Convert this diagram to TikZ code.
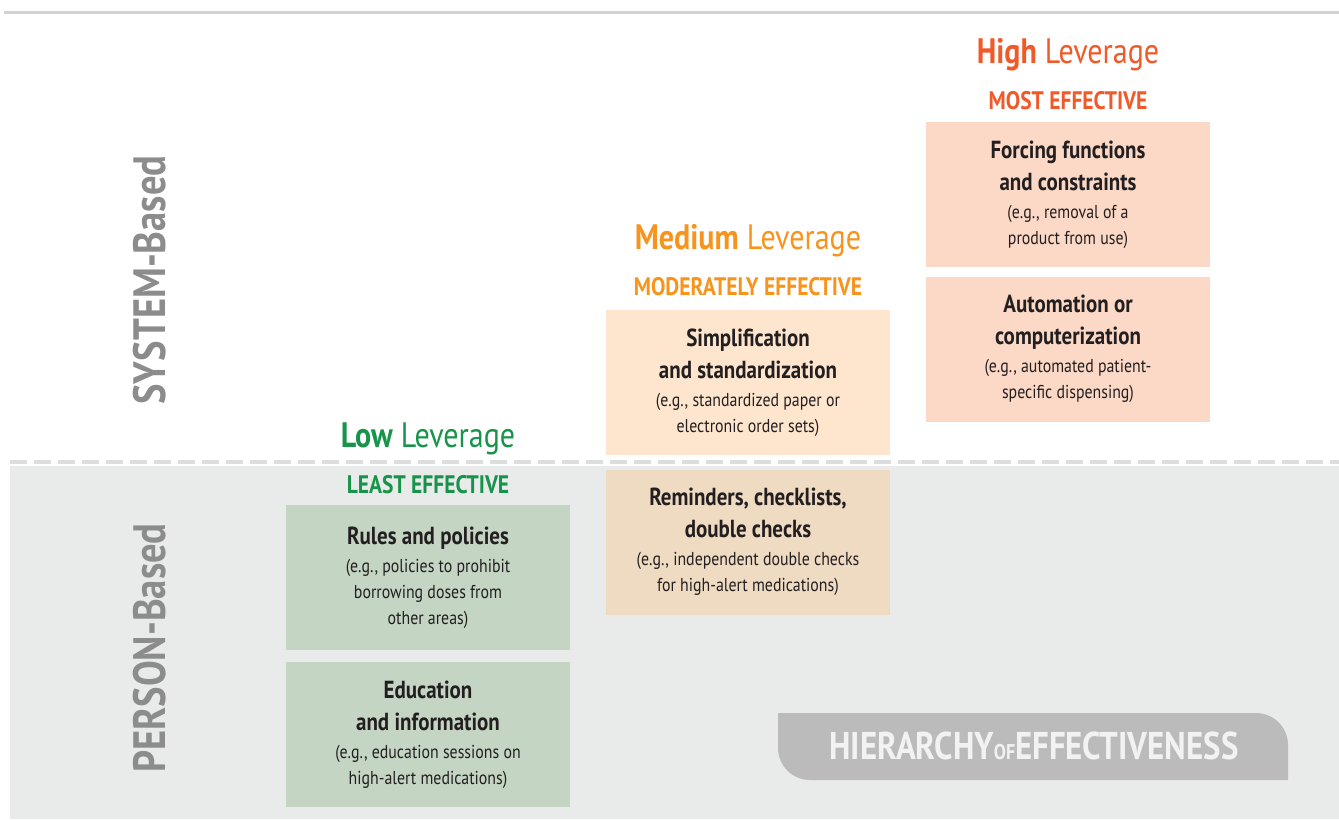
\documentclass[tikz,border=0pt]{standalone}
\usepackage{fontspec}
\setmainfont{PT Sans}[FakeStretch=0.85]
\usepackage{xcolor}
\usepackage{tikz}
\usetikzlibrary{positioning}

\definecolor{highc}{HTML}{F05A28}
\definecolor{medc}{HTML}{F7941D}
\definecolor{lowc}{HTML}{17944A}
\definecolor{highbox}{HTML}{FBD9C6}
\definecolor{medboxa}{HTML}{FEE6CE}
\definecolor{medboxb}{HTML}{EFDAC2}
\definecolor{lowbox}{HTML}{C4D5C3}
\definecolor{bggray}{HTML}{E9EBEA}
\definecolor{dashgray}{HTML}{DCDEDD}
\definecolor{topgray}{HTML}{D2D2D2}
\definecolor{sidegray}{HTML}{8C8C8C}
\definecolor{bannergray}{HTML}{BBBBBB}
\definecolor{inkdark}{HTML}{231F20}

% titre en gras / note entre parentheses
\newcommand{\bt}[1]{{\fontsize{18.5}{19.5}\selectfont\bfseries #1}}
\newcommand{\nt}[1]{{\fontsize{14}{19.5}\selectfont #1}}

\begin{document}
\begin{tikzpicture}[
		x=0.75pt, y=-0.75pt,
		measure/.style={
			minimum width=213pt, minimum height=108.75pt,
			inner sep=0pt, align=center, text=inkdark,
			font=\fontsize{14}{19.5}\selectfont
		},
		lever/.style={
			font=\fontsize{26.5}{30}\selectfont,
			anchor=center
		},
		effect/.style={
			font=\fontsize{19}{22}\selectfont\bfseries,
			anchor=center
		},
		side_label/.style={
			font=\fontsize{34}{36}\selectfont\bfseries,
			text=sidegray, rotate=90
		}
	]
	\useasboundingbox (0,0) rectangle (1339,819);
	
	% === FOND ===
	\fill[bggray] (10,466) rectangle (1339,819);
	\draw[dashgray, line width=3pt, dash pattern=on 12.75pt off 5.25pt] (10,462) -- (1339,462);
	\draw[topgray, line width=2.25pt] (4,12) -- (1339,12);
	
	% === TITRES (High, Medium, Low) ===
	\foreach \key/\cx/\ty/\col/\lev/\eff in {
		high/1068/55/highc/High/MOST EFFECTIVE,
		med/748/241/medc/Medium/MODERATELY EFFECTIVE,
		low/428/439/lowc/Low/LEAST EFFECTIVE} {
		\node[lever, text=\col] (\key title) at (\cx,\ty) {\textbf{\lev} Leverage};
		\node[effect, text=\col] (\key eff) at (\cx,\ty+46) {\eff};
	}
	
	% === HIGH ===
	\node[measure, fill=highbox] (forcing) at (1068,194.5)
		{\bt{Forcing functions}\\[4.5pt]\bt{and constraints}\\[1.5pt]\nt{(e.g., removal of a}\\\nt{product from use)}};
	\node[measure, fill=highbox] (automation) at (1068,349)
		{\bt{Automation or}\\[4.5pt]\bt{computerization}\\[1.5pt]\nt{(e.g., automated patient-}\\\nt{specific dispensing)}};
	
	% === MEDIUM ===
	\node[measure, fill=medboxa] (simplify) at (748,382.5)
		{\bt{Simplification}\\[4.5pt]\bt{and standardization}\\[1.5pt]\nt{(e.g., standardized paper or}\\\nt{electronic order sets)}};
	\node[measure, fill=medboxb] (reminders) at (748,542)
		{\bt{Reminders, checklists,}\\[4.5pt]\bt{double checks}\\[1.5pt]\nt{(e.g., independent double checks}\\\nt{for high-alert medications)}};
	
	% === LOW ===
	\node[measure, fill=lowbox] (rules) at (428,577.5)
		{\bt{Rules and policies}\\[1.5pt]\nt{(e.g., policies to prohibit}\\\nt{borrowing doses from}\\\nt{other areas)}};
	\node[measure, fill=lowbox] (education) at (428,734.5)
		{\bt{Education}\\[4.5pt]\bt{and information}\\[1.5pt]\nt{(e.g., education sessions on}\\\nt{high-alert medications)}};
	
	% === COTE GAUCHE ===
	\node[side_label] (sysbased) at (150,280) {SYSTEM-Based};
	\node[side_label] (personbased) at (150,648) {PERSON-Based};
	
	% === BANDEAU ===
	\fill[bannergray] (778,713) [rounded corners=24pt] -- (1288,713) [sharp corners] -- (1288,780) [rounded corners=24pt] -- (778,780) [sharp corners] -- cycle;
	\node[font=\fontsize{29}{32}\selectfont\bfseries, text=white!95!black] (hierarchy) at (1034,746)
		{HIERARCHY{\fontsize{16}{18}\selectfont OF}EFFECTIVENESS};
	
\end{tikzpicture}
\end{document}
